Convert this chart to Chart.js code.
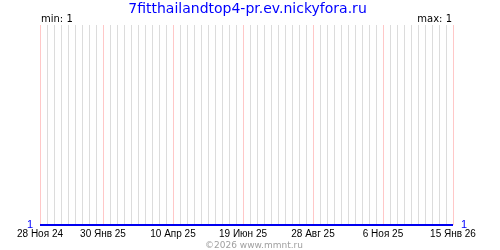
<!DOCTYPE html>
<html><head><meta charset="utf-8">
<script src="https://cdn.jsdelivr.net/npm/chart.js@4/dist/chart.umd.min.js"></script>
<style>html,body{margin:0;padding:0;background:#fff}#wrap{width:500px;height:250px;position:relative}</style>
</head><body><div id="wrap"><canvas id="c" width="500" height="250"></canvas></div>
<script>
const titleText = '7fitthailandtop4-pr.ev.nickyfora.ru';
const footerText = '©2026 www.mmnt.ru';
const minText = 'min: 1';
const maxText = 'max: 1';
// x positions are days since 28 Nov 2024
const tickDays = [0, 63, 133, 203, 273, 343, 413];
const tickLabels = ['28 Ноя 24', '30 Янв 25', '10 Апр 25', '19 Июн 25', '28 Авг 25', '6 Ноя 25', '15 Янв 26'];
const seriesDays = [0, 413];
const seriesValues = [1, 1];
const yTickValues = [1];
const gridStepDays = 7;

const gridDays = [];
for (let d = tickDays[0]; d <= tickDays[tickDays.length - 1]; d += gridStepDays) gridDays.push(d);

const textPlugin = {
  id: 'texts',
  afterDraw(chart) {
    const ctx = chart.ctx, a = chart.chartArea;
    ctx.save();
    ctx.textBaseline = 'alphabetic';
    ctx.fillStyle = '#0000ff';
    ctx.font = '14px "DejaVu Sans"';
    ctx.textAlign = 'center';
    ctx.fillText(titleText, 247.5, 13);
    ctx.fillStyle = '#000';
    ctx.font = '10px "DejaVu Sans"';
    ctx.textAlign = 'left';
    ctx.fillText(minText, a.left + 1, 22);
    ctx.textAlign = 'right';
    ctx.fillText(maxText, a.right - 1, 22);
    ctx.fillStyle = '#a0a0a0';
    ctx.textAlign = 'center';
    ctx.font = '9px "DejaVu Sans"';
    ctx.fillText(footerText, 254, 248);
    ctx.restore();
  }
};

new Chart(document.getElementById('c'), {
  type: 'line',
  data: {
    datasets: [{
      data: seriesDays.map((d, i) => ({x: d, y: seriesValues[i]})),
      borderColor: '#0000f0',
      borderWidth: 2,
      pointRadius: 0,
      tension: 0,
      clip: false
    }]
  },
  options: {
    responsive: false,
    animation: false,
    events: [],
    layout: {padding: {top: 25, left: 0, right: 0, bottom: 0}},
    plugins: {legend: {display: false}, tooltip: {enabled: false}, title: {display: false}},
    scales: {
      x: {
        type: 'linear',
        min: tickDays[0],
        max: tickDays[tickDays.length - 1],
        afterBuildTicks: s => { s.ticks = gridDays.map(v => ({value: v})); },
        afterFit: s => { s.height = 25; },
        grid: {
          drawTicks: false,
          color: c => tickDays.includes(c.tick && c.tick.value) ? '#ffc8c8' : '#dcdcdc',
          lineWidth: 1
        },
        border: {display: false},
        ticks: {
          autoSkip: false, maxRotation: 0, minRotation: 0, padding: 3,
          color: '#000',
          font: {family: '"Liberation Sans"', size: 10},
          callback: v => { const i = tickDays.indexOf(v); return i >= 0 ? tickLabels[i] : ''; }
        }
      },
      y: {
        position: 'left',
        min: 1, max: 2,
        afterBuildTicks: s => { s.ticks = yTickValues.map(v => ({value: v})); },
        afterFit: s => { s.width = 40; },
        grid: {display: false, drawTicks: false}, border: {display: false},
        ticks: {color: '#0000ff', padding: 7, font: {family: '"Liberation Sans"', size: 11}}
      },
      y2: {
        position: 'right',
        min: 1, max: 2,
        afterBuildTicks: s => { s.ticks = yTickValues.map(v => ({value: v})); },
        afterFit: s => { s.width = 47; },
        grid: {display: false, drawTicks: false}, border: {display: false},
        ticks: {color: '#0000ff', padding: 8, font: {family: '"Liberation Sans"', size: 11}}
      }
    }
  },
  plugins: [textPlugin]
});
</script></body></html>
